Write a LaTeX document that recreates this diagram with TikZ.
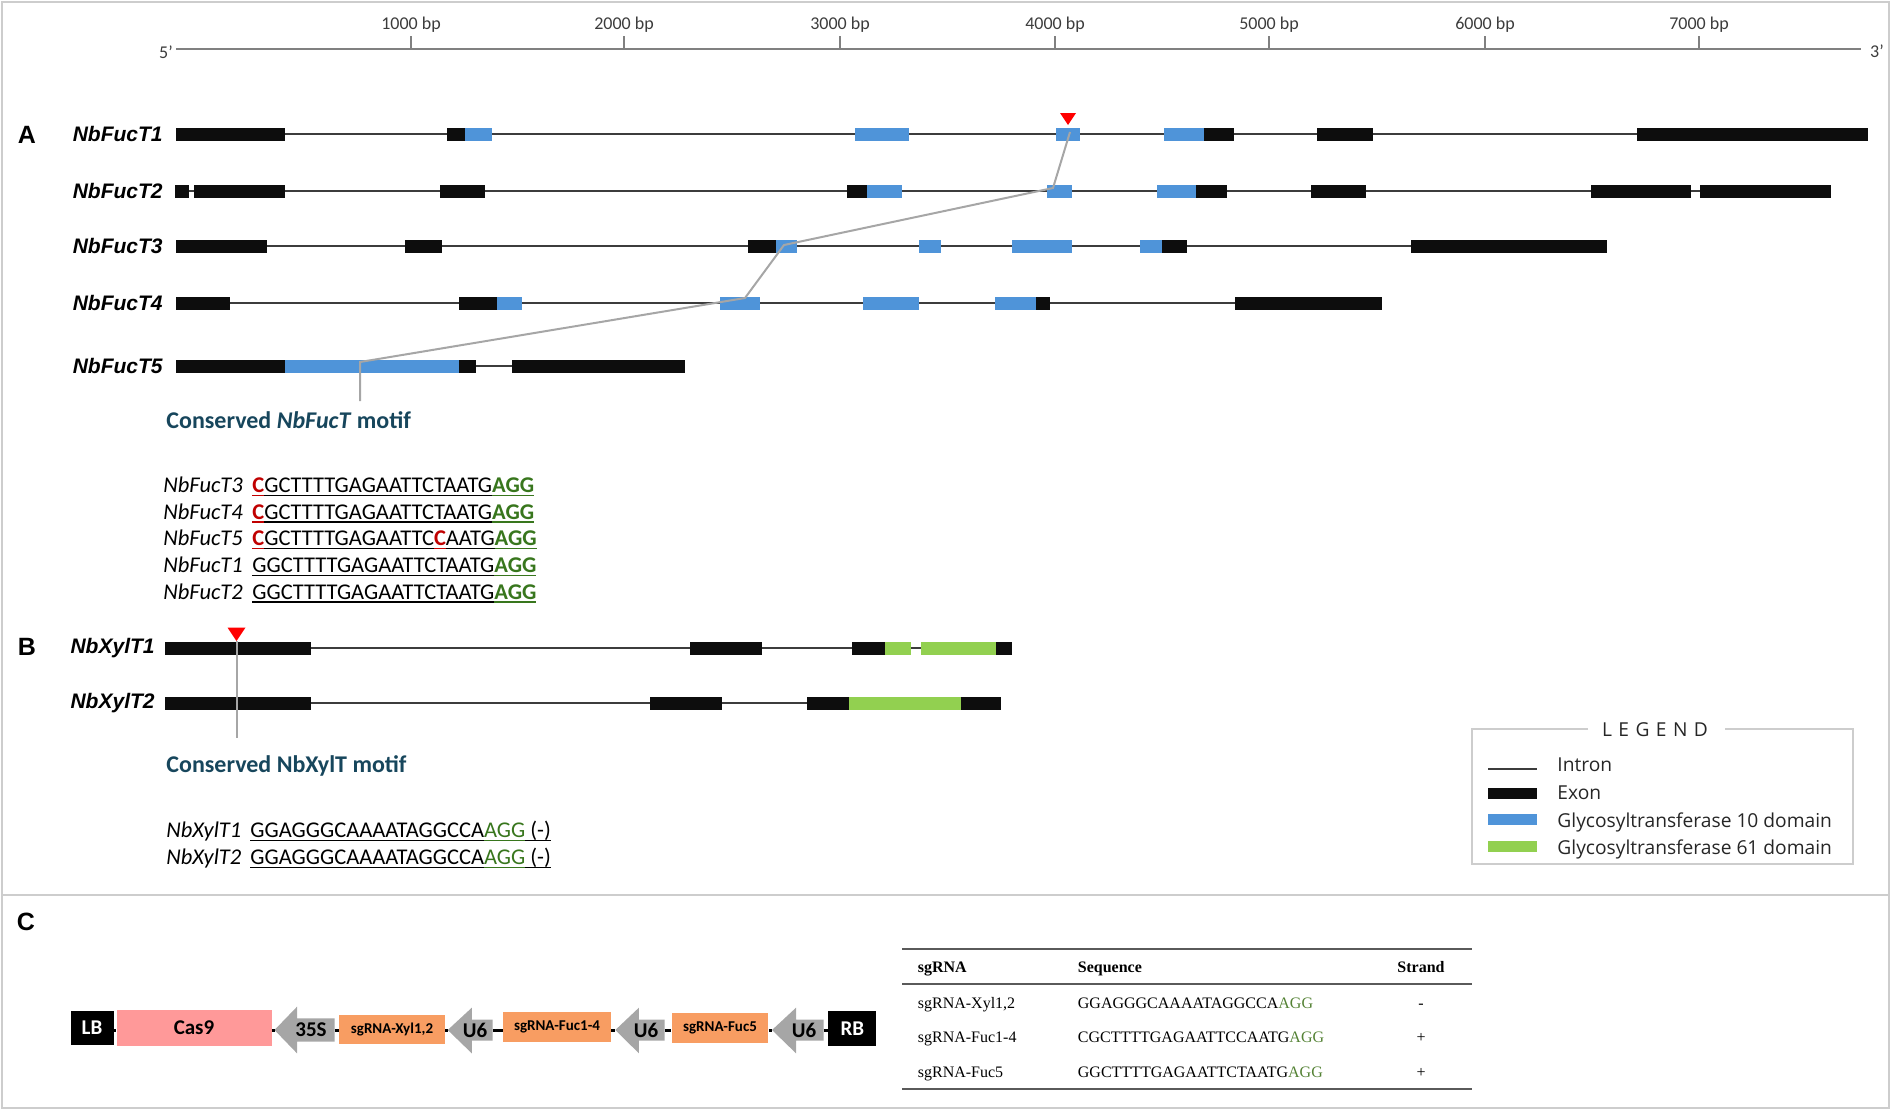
\documentclass[tikz,border=0pt]{standalone}
\usepackage{fontspec}
\setmainfont{Carlito}
\newfontfamily\arialf{Liberation Sans}
\newfontfamily\timesf{Liberation Serif}
\newfontfamily\legf{Open Sans}
\newsavebox\ulbox
\newcommand\ulx[1]{\sbox\ulbox{#1}\rlap{\usebox\ulbox}\rule[-1.8pt]{\wd\ulbox}{0.7pt}}
\definecolor{exonc}{RGB}{13,13,13}
\definecolor{gtblue}{RGB}{79,148,217}
\definecolor{gtgreen}{RGB}{146,208,80}
\definecolor{intronc}{RGB}{60,60,60}
\definecolor{motifc}{RGB}{166,166,166}
\definecolor{framec}{RGB}{205,205,205}
\definecolor{scalec}{RGB}{128,128,128}
\definecolor{motiftext}{RGB}{23,70,92}
\definecolor{seqred}{RGB}{192,0,0}
\definecolor{seqgreen}{RGB}{56,118,29}
\definecolor{cas9c}{RGB}{255,153,153}
\definecolor{sgc}{RGB}{248,157,98}
\definecolor{arrc}{RGB}{166,166,166}
\definecolor{tgreen}{RGB}{84,130,53}
\definecolor{rulec}{RGB}{90,90,90}
\newcommand\rC{\textcolor{seqred}{\ulx{\bfseries C}}}
\newcommand\gAGG{\textcolor{seqgreen}{\ulx{\bfseries AGG}}}
\newcommand\gAGGn{\textcolor{seqgreen}{\ulx{AGG}}}
\tikzset{
  gname/.style={font=\arialf\bfseries\itshape\fontsize{10.5}{12}\selectfont, anchor=east, inner sep=0pt},
  panel/.style={font=\arialf\bfseries\fontsize{12.5}{14}\selectfont, inner sep=0pt},
  sclab/.style={font=\fontsize{9}{10}\selectfont, text=intronc, anchor=base, inner sep=0pt},
  intron/.style={draw=intronc, line width=1pt},
  motifline/.style={draw=motifc, line width=1pt},
  motiflab/.style={font=\bfseries\fontsize{12}{14}\selectfont, text=motiftext, anchor=west, inner sep=0pt},
  seqlab/.style={font=\itshape\fontsize{11.25}{13}\selectfont, anchor=base west, inner sep=0pt},
  seqtxt/.style={font=\fontsize{11.25}{13}\selectfont, anchor=base west, inner sep=0pt},
  legtxt/.style={font=\legf\fontsize{9.6}{11}\selectfont, text=black!85, anchor=base west, inner sep=0pt},
  blackbox/.style={fill=black, text=white, font=\bfseries\fontsize{10.5}{12}\selectfont, inner sep=0pt},
  sgbox/.style={fill=sgc, font=\bfseries\fontsize{7.5}{9}\selectfont, inner sep=0pt},
  arrtxt/.style={font=\bfseries\fontsize{10.5}{12}\selectfont, inner sep=0pt},
  conn/.style={draw=black, line width=1.5pt},
  tabtxt/.style={font=\timesf\fontsize{8}{10}\selectfont, anchor=base west, inner sep=0pt},
  tabhead/.style={font=\timesf\bfseries\fontsize{8}{10}\selectfont, anchor=base west, inner sep=0pt},
  tabrule/.style={draw=rulec, line width=1pt}
}
\begin{document}
\begin{tikzpicture}[x=0.5pt,y=-0.5pt]
\useasboundingbox (0,0) rectangle (1890,1109);
% frame
\draw[framec, line width=1pt] (1.5,1.5) rectangle (1888.5,1107.5);
\draw[framec, line width=1pt] (1.5,895) -- (1888.5,895);

% scale bar
\draw[scalec, line width=1pt] (176,49) -- (1861,49);
\foreach \x/\l in {411/1000,624/2000,840/3000,1055/4000,1269/5000,1485/6000,1699/7000}{
  \draw[scalec, line width=1pt] (\x,36) -- (\x,49);
  \node[sclab] (s\l) at (\x,29) {\l\ bp};
}
\node[font=\fontsize{9}{10}\selectfont, text=intronc, inner sep=0pt] (five) at (166,52) {5’};
\node[font=\fontsize{9}{10}\selectfont, text=intronc, inner sep=0pt] (three) at (1877,51) {3’};

% panel labels
\node[panel] (pA) at (27,135) {A};
\node[panel] (pB) at (27,647) {B};
\node[panel] (pC) at (26,922) {C};

% ---------- NbFucT1 ----------
\node[gname] (g1) at (163,134) {NbFucT1};
\draw[intron] (176,134) -- (1868,134);
\foreach \a/\b/\c in {176/285/exonc,447/465/exonc,465/492/gtblue,855/909/gtblue,1056/1080/gtblue,1164/1204/gtblue,1204/1234/exonc,1317/1373/exonc,1637/1868/exonc}
  \fill[\c] (\a,127.5) rectangle (\b,140.5);
% ---------- NbFucT2 ----------
\node[gname] (g2) at (163,191) {NbFucT2};
\draw[intron] (175,191) -- (1831,191);
\foreach \a/\b/\c in {175/189/exonc,194/285/exonc,440/485/exonc,847/867/exonc,867/902/gtblue,1047/1072/gtblue,1157/1196/gtblue,1196/1227/exonc,1311/1366/exonc,1591/1691/exonc,1700/1831/exonc}
  \fill[\c] (\a,184.5) rectangle (\b,197.5);
% ---------- NbFucT3 ----------
\node[gname] (g3) at (163,246) {NbFucT3};
\draw[intron] (176,246) -- (1607,246);
\foreach \a/\b/\c in {176/267/exonc,405/442/exonc,748/776/exonc,776/797/gtblue,919/941/gtblue,1012/1072/gtblue,1140/1162/gtblue,1162/1187/exonc,1411/1607/exonc}
  \fill[\c] (\a,239.5) rectangle (\b,252.5);
% ---------- NbFucT4 ----------
\node[gname] (g4) at (163,303) {NbFucT4};
\draw[intron] (176,303) -- (1382,303);
\foreach \a/\b/\c in {176/230/exonc,459/497/exonc,497/522/gtblue,720/760/gtblue,863/919/gtblue,995/1036/gtblue,1036/1050/exonc,1235/1382/exonc}
  \fill[\c] (\a,296.5) rectangle (\b,309.5);
% ---------- NbFucT5 ----------
\node[gname] (g5) at (163,366) {NbFucT5};
\draw[intron] (176,366) -- (512,366);
\foreach \a/\b/\c in {176/285/exonc,285/459/gtblue,459/476/exonc,512/685/exonc}
  \fill[\c] (\a,359.5) rectangle (\b,372.5);

% motif connector A
\fill[red] (1060,113) -- (1076,113) -- (1068,125) -- cycle;
\coordinate (m1) at (1070,132);
\coordinate (m2) at (1053,188);
\coordinate (m3) at (784,245);
\coordinate (m4) at (745,298);
\coordinate (m5) at (360,362);
\coordinate (m6) at (360,401);
\draw[motifline] (m1) -- (m2) -- (m3) -- (m4) -- (m5) -- (m6);
\node[motiflab] (motA) at (166,420) {Conserved \textit{NbFucT} motif};

% sequences A
\node[seqlab] (l3) at (163,492.5) {NbFucT3};
\node[seqtxt] (q3) at (252,492.5) {\rC\ulx{GCTTTTGAGAATTCTAATG}\gAGG};
\node[seqlab] (l4) at (163,519) {NbFucT4};
\node[seqtxt] (q4) at (252,519) {\rC\ulx{GCTTTTGAGAATTCTAATG}\gAGG};
\node[seqlab] (l5) at (163,545.5) {NbFucT5};
\node[seqtxt] (q5) at (252,545.5) {\rC\ulx{GCTTTTGAGAATTC}\rC\ulx{AATG}\gAGG};
\node[seqlab] (l1) at (163,572.5) {NbFucT1};
\node[seqtxt] (q1) at (252,572.5) {\ulx{GGCTTTTGAGAATTCTAATG}\gAGG};
\node[seqlab] (l2) at (163,599) {NbFucT2};
\node[seqtxt] (q2) at (252,599) {\ulx{GGCTTTTGAGAATTCTAATG}\gAGG};

% ---------- Panel B ----------
\node[gname] (x1) at (155,648) {NbXylT1};
\draw[intron] (165,648) -- (1012,648);
\foreach \a/\b/\c in {165/311/exonc,690/762/exonc,852/885/exonc,885/911/gtgreen,921/996/gtgreen,996/1012/exonc}
  \fill[\c] (\a,641.5) rectangle (\b,654.5);
\node[gname] (x2) at (155,703) {NbXylT2};
\draw[intron] (165,703) -- (1001,703);
\foreach \a/\b/\c in {165/311/exonc,650/722/exonc,807/849/exonc,849/961/gtgreen,961/1001/exonc}
  \fill[\c] (\a,696.5) rectangle (\b,709.5);
\fill[red] (227.5,627.5) -- (245.5,627.5) -- (236.5,641) -- cycle;
\coordinate (n1) at (236.5,641);
\coordinate (n2) at (236.5,738);
\draw[motifline] (n1) -- (n2);
\node[motiflab] (motB) at (166,766) {Conserved NbXylT motif};
\node[seqlab] (lx1) at (166,837.5) {NbXylT1};
\node[seqtxt] (qx1) at (250,837.5) {\ulx{GGAGGGCAAAATAGGCCA}\gAGGn\ulx{ (-)}};
\node[seqlab] (lx2) at (166,864.5) {NbXylT2};
\node[seqtxt] (qx2) at (250,864.5) {\ulx{GGAGGGCAAAATAGGCCA}\gAGGn\ulx{ (-)}};

% ---------- Legend ----------
\draw[framec, line width=1pt] (1588,729) -- (1472,729) -- (1472,864) -- (1853,864) -- (1853,729) -- (1725,729);
\node[font=\legf\fontsize{9.6}{11}\selectfont, text=black!85, inner sep=0pt] (legt) at (1655,730) {L\kern3.2pt E\kern3.2pt G\kern3.2pt E\kern3.2pt N\kern3.2pt D};
\draw[draw=intronc, line width=0.6pt] (1488,769) -- (1537,769);
\fill[exonc] (1488,788) rectangle (1537,799);
\fill[gtblue] (1488,814) rectangle (1537,825);
\fill[gtgreen] (1488,841) rectangle (1537,852);
\node[legtxt] (lg1) at (1557,771) {Intron};
\node[legtxt] (lg2) at (1557,799) {Exon};
\node[legtxt] (lg3) at (1557,827) {Glycosyltransferase 10 domain};
\node[legtxt] (lg4) at (1557,854) {Glycosyltransferase 61 domain};

% ---------- Panel C construct ----------
\node[blackbox, minimum width=21.5pt, minimum height=17pt] (lb) at (92,1028) {LB};
\node[fill=cas9c, font=\bfseries\fontsize{10.5}{12}\selectfont, inner sep=0pt, minimum width=77.5pt, minimum height=18pt] (cas9) at (194,1027.5) {Cas9};
% arrow 35S
\fill[arrc] (274.5,1030) -- (297,1006.7) -- (297,1018.3) -- (334.6,1018.3) -- (334.6,1041.7) -- (297,1041.7) -- (297,1053.3) -- cycle;
\coordinate (a1t) at (274.5,1030);
\coordinate (a1r) at (334.6,1030);
\node[arrtxt] (p35s) at (311,1030) {35S};
\node[sgbox, minimum width=53pt, minimum height=14.5pt] (sgx) at (392,1029) {sgRNA-Xyl1,2};
% arrow U6 1
\fill[arrc] (447.7,1030) -- (471.8,1007.7) -- (471.8,1019.5) -- (492.5,1019.5) -- (492.5,1040.5) -- (471.8,1040.5) -- (471.8,1053.3) -- cycle;
\coordinate (a2t) at (447.7,1030);
\coordinate (a2r) at (492.5,1030);
\node[arrtxt] (u61) at (475,1030) {U6};
\node[sgbox, minimum width=54pt, minimum height=14.7pt] (sgf14) at (557,1027) {sgRNA-Fuc1-4};
% arrow U6 2
\fill[arrc] (615.3,1030) -- (638.9,1007.7) -- (638.9,1019.5) -- (664.7,1019.5) -- (664.7,1040.5) -- (638.9,1040.5) -- (638.9,1053.3) -- cycle;
\coordinate (a3t) at (615.3,1030);
\coordinate (a3r) at (664.7,1030);
\node[arrtxt] (u62) at (646,1030) {U6};
\node[sgbox, minimum width=48.2pt, minimum height=14.7pt] (sgf5) at (720,1028) {sgRNA-Fuc5};
% arrow U6 3
\fill[arrc] (772,1030) -- (796,1007.7) -- (796,1019.5) -- (823.7,1019.5) -- (823.7,1040.5) -- (796,1040.5) -- (796,1053.3) -- cycle;
\coordinate (a4t) at (772,1030);
\coordinate (a4r) at (823.7,1030);
\node[arrtxt] (u63) at (804,1030) {U6};
\node[blackbox, minimum width=24pt, minimum height=17.5pt] (rb) at (852.4,1028.3) {RB};
% connectors
\draw[conn] (lb.east |- 0,1030) -- (cas9.west |- 0,1030);
\draw[conn] (cas9.east |- 0,1030) -- (a1t);
\draw[conn] (a1r) -- (sgx.west |- 0,1030);
\draw[conn] (sgx.east |- 0,1030) -- (a2t);
\draw[conn] (a2r) -- (sgf14.west |- 0,1030);
\draw[conn] (sgf14.east |- 0,1030) -- (a3t);
\draw[conn] (a3r) -- (sgf5.west |- 0,1030);
\draw[conn] (sgf5.east |- 0,1030) -- (a4t);
\draw[conn] (a4r) -- (rb.west |- 0,1030);

% ---------- Table ----------
\draw[tabrule] (902,949) -- (1472,949);
\draw[tabrule] (902,984) -- (1472,984);
\draw[tabrule] (902,1089) -- (1472,1089);
\node[tabhead] (th1) at (917.5,972) {sgRNA};
\node[tabhead] (th2) at (1077.5,972) {Sequence};
\node[tabhead, anchor=base] (th3) at (1421,972) {Strand};
\node[tabtxt] (r1a) at (917.5,1008) {sgRNA-Xyl1,2};
\node[tabtxt] (r1b) at (1077.5,1008) {GGAGGGCAAAATAGGCCA\textcolor{tgreen}{AGG}};
\node[tabtxt, anchor=base] (r1c) at (1421,1008) {-};
\node[tabtxt] (r2a) at (917.5,1042) {sgRNA-Fuc1-4};
\node[tabtxt] (r2b) at (1077.5,1042) {CGCTTTTGAGAATTCCAATG\textcolor{tgreen}{AGG}};
\node[tabtxt, anchor=base] (r2c) at (1421,1042) {+};
\node[tabtxt] (r3a) at (917.5,1077) {sgRNA-Fuc5};
\node[tabtxt] (r3b) at (1077.5,1077) {GGCTTTTGAGAATTCTAATG\textcolor{tgreen}{AGG}};
\node[tabtxt, anchor=base] (r3c) at (1421,1077) {+};
\end{tikzpicture}
\end{document}
